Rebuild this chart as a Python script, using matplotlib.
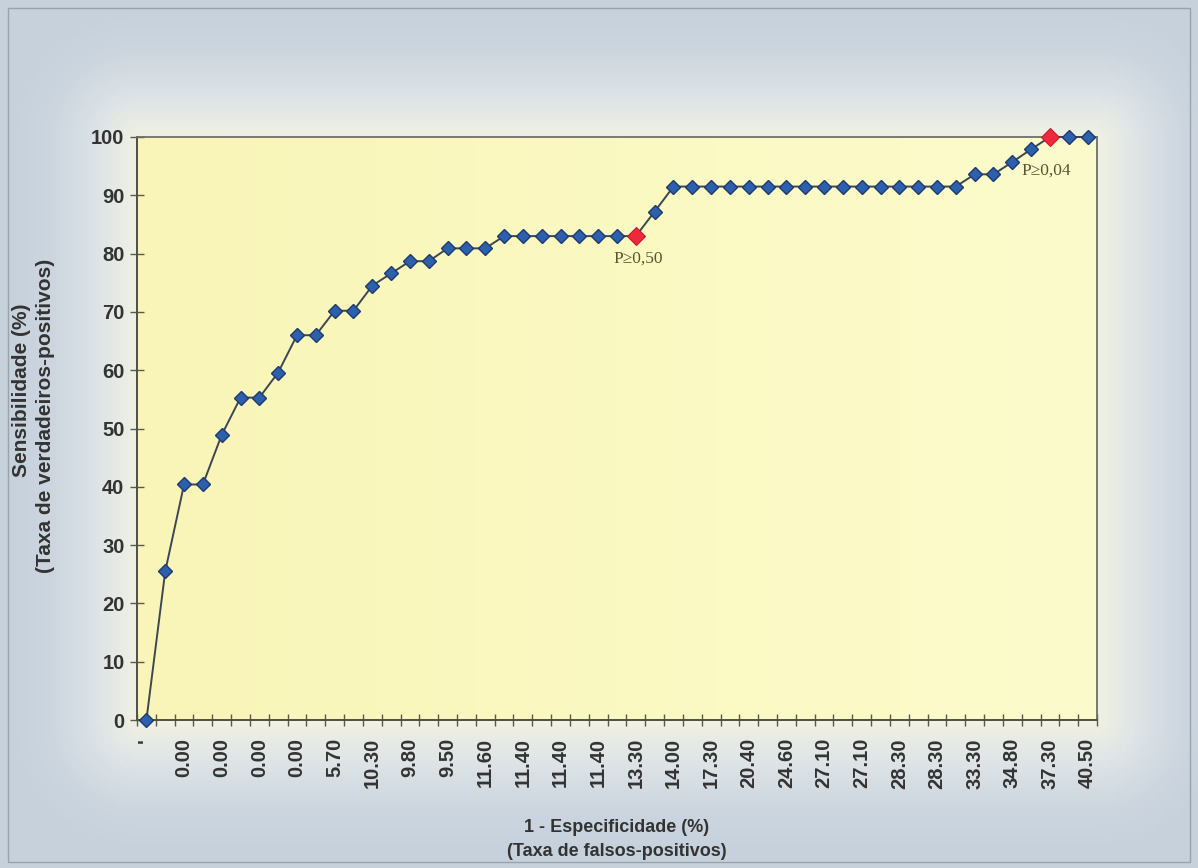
import numpy as np
import matplotlib
matplotlib.use("Agg")
import matplotlib.pyplot as plt
from matplotlib.patches import Rectangle
from matplotlib.colors import LinearSegmentedColormap

# ---- data ----
sensitivity = [0, 25.5, 40.4, 40.4, 48.9, 55.3, 55.3, 59.6, 66.0, 66.0,
               70.2, 70.2, 74.5, 76.6, 78.7, 78.7, 80.9, 80.9, 80.9, 83.0,
               83.0, 83.0, 83.0, 83.0, 83.0, 83.0, 83.0, 87.2, 91.5, 91.5,
               91.5, 91.5, 91.5, 91.5, 91.5, 91.5, 91.5, 91.5, 91.5, 91.5,
               91.5, 91.5, 91.5, 91.5, 93.6, 93.6, 95.7, 97.9, 100, 100, 100]
tick_labels = ["'", "0.00", "0.00", "0.00", "0.00", "5.70", "10.30", "9.80",
               "9.50", "11.60", "11.40", "11.40", "11.40", "13.30", "14.00",
               "17.30", "20.40", "24.60", "27.10", "27.10", "28.30", "28.30",
               "33.30", "34.80", "37.30", "40.50"]
highlight_idx = [26, 48]
highlight_text = ["P\u22650,50", "P\u22650,04"]
yticks = list(range(0, 101, 10))

W, H = 1198, 868
fig = plt.figure(figsize=(W / 100, H / 100), dpi=100)

# background: bluish-grey paper with a pale glow around the plot area
bg = fig.add_axes([0, 0, 1, 1], zorder=-10)
py, px = np.mgrid[0:H:4, 0:W:4]
x0, x1, y0, y1 = 137, 1097, 137, 720
dx = np.maximum(np.maximum(x0 - px, px - x1), 0)
dy = np.maximum(np.maximum(y0 - py, py - y1), 0)
d = np.sqrt(dx ** 2 + dy ** 2)
t = np.clip(d / 130.0, 0, 1)
cmap_bg = LinearSegmentedColormap.from_list("bg", ["#f1f1e4", "#dde3e6", "#cdd6df", "#c6d1dc"])
bg.imshow(t, cmap=cmap_bg, aspect="auto", extent=[0, 1, 0, 1], origin="upper", vmin=0, vmax=1)
bg.set_axis_off()
fig.patches.append(Rectangle((8 / W, 6 / H), (W - 16) / W, (H - 14) / H, transform=fig.transFigure,
                             fill=False, edgecolor="#9aa2aa", linewidth=1.0))

ax = fig.add_axes([x0 / W, 1 - y1 / H, (x1 - x0) / W, (y1 - y0) / H])
cmap_pa = LinearSegmentedColormap.from_list("pa", ["#f9f5b8", "#fbf9c2", "#fcfbcc"])
grad = np.linspace(0, 1, 256).reshape(1, -1)
ax.imshow(grad, cmap=cmap_pa, aspect="auto", extent=[-0.5, 50.5, 0, 100], zorder=0)

x = np.arange(len(sensitivity))
ax.plot(x, sensitivity, color="#3d4652", linewidth=1.4, zorder=3, clip_on=False)
ax.plot(x, sensitivity, linestyle="none", marker="D", markersize=7.4,
        markerfacecolor="#2c5fae", markeredgecolor="#1e3b6b", markeredgewidth=1.0,
        zorder=4, clip_on=False)
hx = [x[i] for i in highlight_idx]
hy = [sensitivity[i] for i in highlight_idx]
ax.plot(hx, hy, linestyle="none", marker="D", markersize=9.5,
        markerfacecolor="#ec2a3c", markeredgecolor="#c51a2c", markeredgewidth=0.8,
        zorder=5, clip_on=False)

offsets = [(2, -16), (-3, -24)]
for xi, yi, txt, off in zip(hx, hy, highlight_text, offsets):
    ax.annotate(txt, (xi, yi), xytext=off, textcoords="offset points",
                ha="center", va="center", fontsize=12.5, color="#5a5634",
                family="Liberation Serif", zorder=6)

ax.set_xlim(-0.5, 50.5)
ax.set_ylim(0, 100)
ax.set_yticks(yticks)
ax.set_yticklabels([str(v) for v in yticks])
ax.set_xticks(np.arange(0, 51, 2))
ax.set_xticklabels(tick_labels, rotation=90)
ax.set_xticks(np.arange(-0.5, 51, 1), minor=True)

for lbl in ax.get_xticklabels() + ax.get_yticklabels():
    lbl.set_fontfamily("Liberation Sans")
    lbl.set_fontweight("bold")
    lbl.set_fontsize(14.5)
    lbl.set_color("#333333")

ax.tick_params(axis="x", which="major", length=0, pad=13)
ax.tick_params(axis="x", which="minor", direction="inout", length=9, width=1.0, color="#5a5a48")
ax.tick_params(axis="y", which="major", direction="inout", length=10, width=1.0, color="#5a5a48", pad=4)

for s in ["left", "bottom"]:
    ax.spines[s].set_color("#4f5040")
    ax.spines[s].set_linewidth(1.4)
for s in ["top", "right"]:
    ax.spines[s].set_color("#6f6f68")
    ax.spines[s].set_linewidth(1.3)

fig.text(617 / W, 1 - 827 / H, "1 - Especificidade (%)", ha="center", va="center",
         fontsize=13, fontweight="bold", family="Liberation Sans", color="#333333")
fig.text(617 / W, 1 - 851 / H, "(Taxa de falsos-positivos)", ha="center", va="center",
         fontsize=13, fontweight="bold", family="Liberation Sans", color="#333333")
fig.text(22 / W, 1 - 390 / H, "Sensibilidade (%)", ha="center", va="center", rotation=90,
         fontsize=15, fontweight="bold", family="Liberation Sans", color="#333333")
fig.text(46 / W, 1 - 416 / H, "(Taxa de verdadeiros-positivos)", ha="center", va="center", rotation=90,
         fontsize=15, fontweight="bold", family="Liberation Sans", color="#333333")

fig.savefig("out.png", dpi=100)
